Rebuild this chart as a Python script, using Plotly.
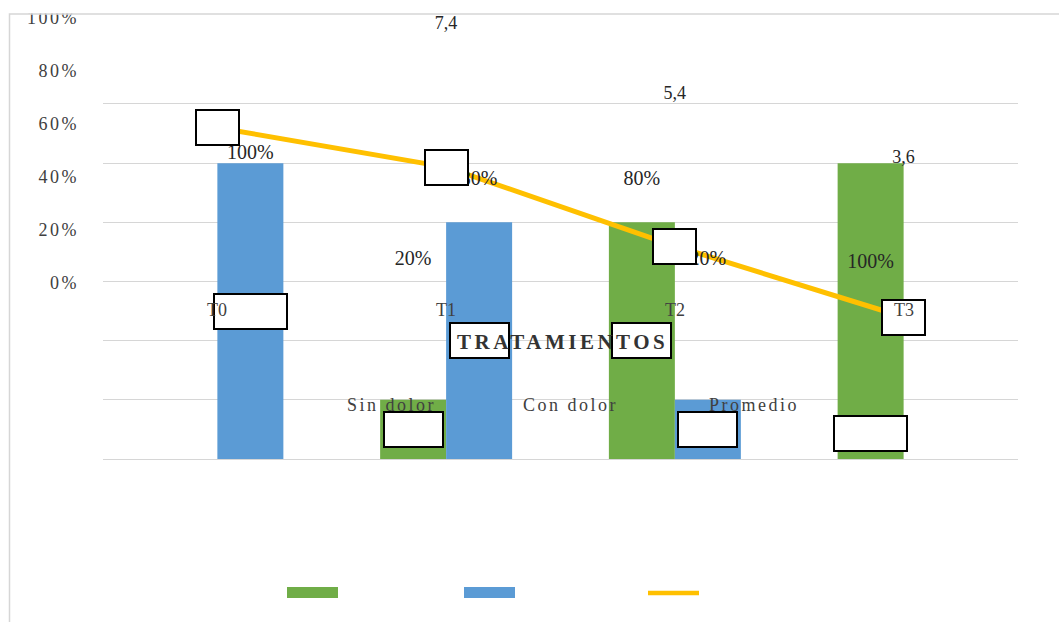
import plotly.graph_objects as go

W, H = 1059, 622

# ---- data -------------------------------------------------------------
categorias = ["T0", "T1", "T2", "T3"]
sin_dolor = [0.0, 0.20, 0.80, 1.00]
con_dolor = [1.00, 0.80, 0.20, 0.0]
promedio = [8.4, 7.4, 5.4, 3.6]
ticks_pct = [0.0, 0.2, 0.4, 0.6, 0.8, 1.0]
ticks_prom = [0, 1, 2, 3, 4, 5, 6, 7]
series = ["Sin dolor", "Con dolor", "Promedio"]
titulo_x = "TRATAMIENTOS"

# ---- style ------------------------------------------------------------
VERDE, AZUL, AMARILLO = "#70AD47", "#5B9BD5", "#FFC000"
GRIS_GRID = "#D6D6D6"
TXT = "#404040"
TXT_DARK = "#262626"
SERIF = "Liberation Serif, Times New Roman, serif"

# plot area in pixels
PL, PR, PT, PB = 103, 1018, 104, 459
BARGAP = 0.423
# text layer: where value 0 sits and pixels per unit
TXT_ZERO = 283
PCT_SCALE = 265.0
PROM_SCALE = 35.4
LABEL_DY = 3          # data labels sit a little lower than the tick labels
# data label moved inside its bar (fraction of the bar height)
LABEL_FRAC = {("Sin dolor", "T3"): 0.085}


def fx(p):
    return p / W


def fy(p):
    return 1 - p / H


def spaced(s, ls=2.5):
    return f'<span style="letter-spacing:{ls}px">{s}</span>'


def pct(v):
    return f"{round(v * 100)}%"


def coma(v):
    return f"{v:.1f}".replace(".", ",")


def txt_axis(scale, dy=0):
    """Full-height axis whose value 0 lands at pixel TXT_ZERO + dy."""
    return dict(domain=[0, 1 - dy / H],
                range=[(TXT_ZERO + dy - H) / scale, TXT_ZERO / scale])


fig = go.Figure()

fig.add_bar(x=categorias, y=sin_dolor, name=series[0], marker_color=VERDE,
            marker_line_width=0, showlegend=False, hoverinfo="skip")
fig.add_bar(x=categorias, y=con_dolor, name=series[1], marker_color=AZUL,
            marker_line_width=0, showlegend=False, hoverinfo="skip")
fig.add_scatter(x=categorias, y=promedio, yaxis="y2", mode="lines", name=series[2],
                line=dict(color=AMARILLO, width=5), showlegend=False, hoverinfo="skip")

# bar data labels (numeric x axis so labels sit on each bar of the group)
half = (1 - BARGAP) / 4
lab_x, lab_y, lab_t = [], [], []
for s_i, (nombre, vals) in enumerate(zip(series[:2], [sin_dolor, con_dolor])):
    for i, (c, v) in enumerate(zip(categorias, vals)):
        if v == 0:
            continue
        frac = LABEL_FRAC.get((nombre, c), 0.5)
        lab_x.append(i + (half if s_i else -half))
        lab_y.append(v * frac)
        lab_t.append(pct(v))

fig.add_scatter(x=lab_x, y=lab_y, text=lab_t, xaxis="x2", yaxis="y5", mode="text",
                textfont=dict(family=SERIF, size=20, color=TXT_DARK),
                showlegend=False, hoverinfo="skip")

# line data labels
fig.add_scatter(x=categorias, y=promedio, text=[coma(v) for v in promedio],
                yaxis="y6", mode="text",
                textfont=dict(family=SERIF, size=18, color=TXT_DARK),
                showlegend=False, hoverinfo="skip")

annotations = []
box = dict(showarrow=False, font=dict(family=SERIF, size=28, color="rgba(0,0,0,0)"),
           bgcolor="white", bordercolor="black", borderwidth=2, borderpad=3, height=27)
for x, y, t in zip(lab_x, lab_y, lab_t):
    annotations.append(dict(box, x=x, y=y, xref="x2", yref="y", text=t))
for c, v in zip(categorias, promedio):
    annotations.append(dict(box, x=c, y=v, xref="x", yref="y2", text=coma(v)))

for c in categorias:
    annotations.append(dict(x=c, y=0, xref="x", yref="y3", yshift=-27, showarrow=False,
                            text=c, font=dict(family=SERIF, size=18, color=TXT)))
annotations.append(dict(x=0.5, y=0, xref="x domain", yref="y3", yshift=-59, xshift=2,
                        showarrow=False, text=spaced(f"<b>{titulo_x}</b>", 3.5),
                        font=dict(family=SERIF, size=21, color="#333333")))

# legend
leg_sw = [287, 464, 646]
leg_tx = [345, 521, 707]
shapes = [
    dict(type="rect", xref="paper", yref="paper", x0=0, x1=1, y0=fy(13.5), y1=1,
         fillcolor="white", line_width=0, layer="above"),
    dict(type="rect", xref="paper", yref="paper", x0=fx(9.5), x1=1.05, y0=-0.05, y1=fy(14),
         line=dict(color=GRIS_GRID, width=1.5), fillcolor="rgba(0,0,0,0)", layer="above"),
    dict(type="rect", xref="paper", yref="paper", x0=fx(leg_sw[0]), x1=fx(leg_sw[0] + 51),
         y0=fy(598), y1=fy(587), fillcolor=VERDE, line_width=0),
    dict(type="rect", xref="paper", yref="paper", x0=fx(leg_sw[1]), x1=fx(leg_sw[1] + 51),
         y0=fy(598), y1=fy(587), fillcolor=AZUL, line_width=0),
    dict(type="line", xref="paper", yref="paper", x0=fx(leg_sw[2] + 2), x1=fx(leg_sw[2] + 53),
         y0=fy(593), y1=fy(593), line=dict(color=AMARILLO, width=4.5)),
]
for nombre, xt in zip(series, leg_tx):
    annotations.append(dict(x=fx(xt), y=fy(405), xref="paper", yref="paper",
                            xanchor="left", showarrow=False, text=spaced(nombre),
                            font=dict(family=SERIF, size=18, color=TXT)))

hidden = dict(visible=False, showgrid=False, zeroline=False)
dom_x = [fx(PL), fx(PR)]
fig.update_layout(
    width=W, height=H, margin=dict(l=0, r=0, t=0, b=0, pad=0),
    paper_bgcolor="white", plot_bgcolor="rgba(0,0,0,0)",
    barmode="group", bargap=BARGAP, bargroupgap=0,
    showlegend=False,
    xaxis=dict(domain=dom_x, type="category", range=[-0.5, 3.5], showticklabels=False,
               showgrid=False, zeroline=False, ticks="", automargin=False,
               showline=True, mirror=True, linecolor=GRIS_GRID, linewidth=1),
    xaxis2=dict(domain=dom_x, range=[-0.5, 3.5], visible=False, anchor="y5"),
    yaxis=dict(domain=[fy(PB), fy(PT)], range=[0, 1.2], dtick=0.2, showticklabels=False,
               showgrid=True, gridcolor=GRIS_GRID, gridwidth=1, zeroline=False,
               showline=False, ticks="", automargin=False),
    yaxis2=dict(overlaying="y", range=[0, 9], visible=False),
    yaxis3=dict(txt_axis(PCT_SCALE), anchor="free", position=fx(79),
                tickvals=ticks_pct, ticktext=[spaced(pct(v)) for v in ticks_pct],
                showgrid=False, zeroline=False, showline=False, ticks="", automargin=False,
                tickfont=dict(family=SERIF, size=18, color=TXT)),
    yaxis4=dict(txt_axis(PROM_SCALE), anchor="free", side="right",
                position=fx(1034), tickvals=ticks_prom, ticktext=[str(v) for v in ticks_prom],
                showgrid=False, zeroline=False, showline=False, ticks="", automargin=False,
                tickfont=dict(family=SERIF, size=18, color=TXT)),
    yaxis5=dict(txt_axis(PCT_SCALE, LABEL_DY), anchor="free", position=0, **hidden),
    yaxis6=dict(txt_axis(PROM_SCALE, LABEL_DY), anchor="free", position=0, **hidden),
    annotations=annotations,
    shapes=shapes,
)

fig.write_html("out.html")
